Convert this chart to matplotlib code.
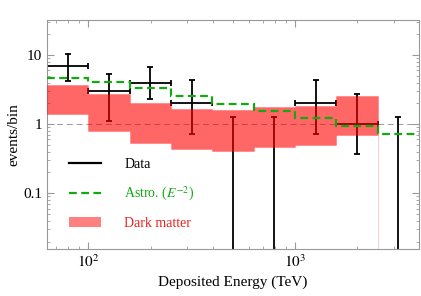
import numpy as np
import matplotlib
matplotlib.use("Agg")
import matplotlib.pyplot as plt
from matplotlib.lines import Line2D
from matplotlib.patches import Patch

plt.rcParams['font.family'] = ['Liberation Serif', 'DejaVu Serif']
plt.rcParams['mathtext.fontset'] = 'stix'

# bin edges (TeV)
bin_edges = [63.1, 100, 158.5, 251.2, 398.1, 631.0, 1000, 1584.9, 2511.9, 3981.1]
bin_centers = [79.4, 125.9, 199.5, 316.2, 501.2, 794.3, 1258.9, 1995.3, 3162.3]

# Data
data_y  = [7.0, 3.0, 4.0, 2.0, 0.0, 0.0, 2.0, 1.0, 0.0]
data_lo = [4.25, 1.1, 2.3, 0.73, 0.0, 0.0, 0.73, 0.37, 0.0]
data_hi = [10.3, 5.4, 6.8, 4.3, 1.28, 1.28, 4.3, 2.75, 1.28]

# Astro (E^-2)
astro = [4.6, 4.1, 3.29, 2.57, 1.95, 1.56, 1.21, 0.93, 0.72]

# Dark matter band
dm_low  = [1.4, 0.79, 0.525, 0.43, 0.41, 0.47, 0.50, 0.69, 1e-6]
dm_high = [3.67, 2.72, 2.01, 1.63, 1.60, 1.75, 1.82, 2.55, 1e-6]

fig = plt.figure(figsize=(4.21, 2.96), dpi=100)
ax = fig.add_axes([0.1116, 0.1588, 0.8836, 0.7736])
ax.set_xscale('log')
ax.set_yscale('log')
ax.set_xlim(10**1.8, 10**3.6)
ax.set_ylim(10**-1.807, 10**1.507)

ax.axhline(1.0, color='#999999', lw=0.7, ls=(0, (6, 4)), zorder=1)

x = np.array(bin_centers)
y = np.array(data_y)
lo = np.array(data_lo)
hi = np.array(data_hi)
edges = np.array(bin_edges)
xerr = np.array([x - edges[:-1], edges[1:] - x])
has = y > 0
ax.errorbar(x[has], y[has], yerr=[y[has] - lo[has], hi[has] - y[has]],
            xerr=xerr[:, has], fmt='none', ecolor='black', elinewidth=1.3,
            capsize=2.5, capthick=1.3, zorder=2)
ax.errorbar(x[~has], hi[~has], yerr=[hi[~has] - 1e-6, np.zeros((~has).sum())],
            fmt='none', ecolor='black', elinewidth=1.3, capsize=2.5,
            capthick=1.3, zorder=2)

lo_s = list(dm_low) + [dm_low[-1]]
hi_s = list(dm_high) + [dm_high[-1]]
ax.fill_between(edges, lo_s, hi_s, step='post', facecolor=(1, 0, 0, 0.6),
                edgecolor=(1, 0, 0, 0.2), lw=0.7, zorder=3)

ax.stairs(astro, edges, baseline=None, color='#11aa11', lw=1.6,
          ls=(0, (3.5, 2)), zorder=4)

for s in ax.spines.values():
    s.set_color('#999999')
    s.set_linewidth(0.8)
ax.tick_params(which='both', direction='in', top=True, right=True, color='#999999',
               labelsize=11, labelcolor='black')
ax.tick_params(which='major', length=5, width=0.8)
ax.tick_params(which='minor', length=2.5, width=0.6)
ax.set_yticks([0.1, 1, 10])
ax.set_yticklabels(['0.1', '1', '10'])
ax.set_xticks([100, 1000])
ax.set_xticklabels([r'$10^2$', r'$10^3$'])

ax.set_xlabel('Deposited Energy (TeV)', fontsize=11, labelpad=4)
ax.set_ylabel('events/bin', fontsize=11, labelpad=2)

handles = [Line2D([], [], color='black', lw=1.6),
           Line2D([], [], color='#11aa11', lw=1.6, ls=(0, (3.5, 2))),
           Patch(facecolor='#ff8080', edgecolor='none')]
labels = ['Data', r'Astro. ($E^{-2}$)', 'Dark matter']
leg = ax.legend(handles, labels, loc='lower left', bbox_to_anchor=(0.025, 0.03),
                frameon=False, fontsize=10, handlelength=2.3, handletextpad=1.7,
                labelspacing=1.0)
for t, c in zip(leg.get_texts(), ['black', '#11aa11', '#ee2222']):
    t.set_color(c)

fig.savefig('out.png', dpi=100)
